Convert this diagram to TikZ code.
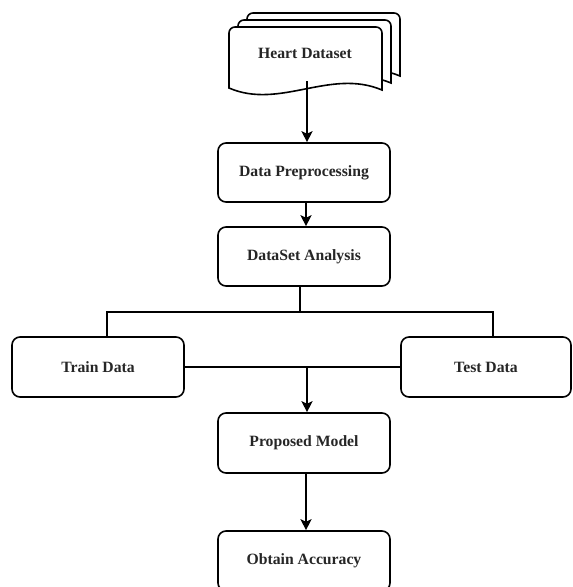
\documentclass[tikz,border=0pt]{standalone}
\usepackage{fontspec}
\setmainfont{Liberation Serif}
\usetikzlibrary{arrows.meta}
\tikzset{
  line/.style={line width=1.6pt, draw=black},
  arr/.style={line, -{Stealth[length=11pt,width=11pt,inset=2.5pt]}},
  box/.style={line, rounded corners=8pt, fill=white, minimum width=172pt, minimum height=59pt,
    inner sep=0pt, font=\fontsize{15.7}{18}\selectfont\bfseries, text=black!85},
  doc/.style={line, fill=white},
  lbl/.style={font=\fontsize{15.7}{18}\selectfont\bfseries, text=black!85, inner sep=0pt}
}
\newcommand\mydocpath{%
  (229,88) -- (229,33) to[out=-90+180,in=180] (235,27) -- (376,27) to[out=0,in=90] (382,33) -- (382,90)
  .. controls (330,68) and (280,110) .. (229,88) -- cycle}
\begin{document}
\begin{tikzpicture}[x=1pt,y=-1pt]
\useasboundingbox (0,0) rectangle (573,587);
\clip (0,0) rectangle (573,587);
% Heart Dataset (multi-document)
\begin{scope}[shift={(18,-14)}]
  \draw[doc] \mydocpath;
\end{scope}
\begin{scope}[shift={(9,-7)}]
  \draw[doc] \mydocpath;
\end{scope}
\draw[doc] \mydocpath;
\node[lbl] (hd) at (305,53) {Heart Dataset};
\coordinate (hdb) at (307,81);

% Boxes
\node[box] (pre) at (304,172.5) {Data Preprocessing};
\node[box] (ana) at (304,256.5) {DataSet Analysis};
\node[box, minimum height=60pt] (train) at (98,367) {Train Data};
\node[box, minimum height=60pt, minimum width=170pt] (test) at (486,367) {Test Data};
\node[box, minimum height=60pt] (prop) at (304,443) {Proposed Model};
\node[box, minimum height=60pt] (acc) at (304,561) {Obtain Accuracy};

% Connectors
\draw[arr] (hdb) -- ([xshift=3pt]pre.north);
\draw[arr] ([xshift=2pt]pre.south) -- ([xshift=2pt]ana.north);
\coordinate (split) at ([xshift=-4pt,yshift=-25pt]ana.south);
\draw[line] ([xshift=-4pt]ana.south) -- (split);
\draw[line] (split) -| ([xshift=9pt]train.north);
\draw[line] (split) -| ([xshift=7pt]test.north);
\draw[line] (train.east) -- (test.west);
\coordinate (merge) at (train.east -| prop.north);
\draw[arr] ([xshift=3pt]merge) -- ([xshift=3pt]prop.north);
\draw[arr] ([xshift=2pt]prop.south) -- ([xshift=2pt]acc.north);
\end{tikzpicture}
\end{document}
